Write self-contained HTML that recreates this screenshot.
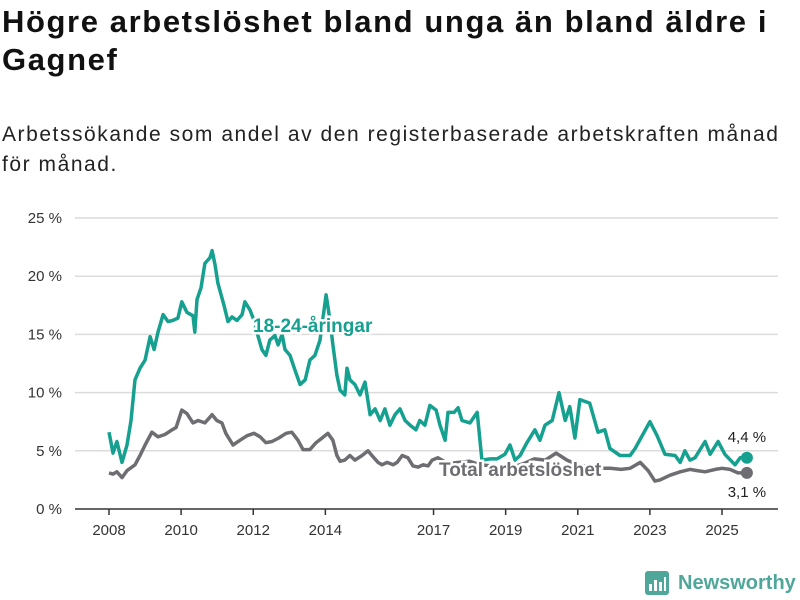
<!DOCTYPE html>
<html><head><meta charset="utf-8"><style>
body{margin:0;width:800px;height:600px;background:#fff;font-family:"Liberation Sans",sans-serif;overflow:hidden;position:relative}
#title{position:absolute;left:2px;top:3px;font-size:31px;font-weight:bold;line-height:38px;color:#111;white-space:nowrap;letter-spacing:1.6px}
#sub{position:absolute;left:2px;top:120px;font-size:21px;line-height:30px;color:#222;white-space:nowrap;letter-spacing:1.55px}
svg{position:absolute;left:0;top:0}
</style></head><body>
<div id="title">Högre arbetslöshet bland unga än bland äldre i<br>Gagnef</div>
<div id="sub">Arbetssökande som andel av den registerbaserade arbetskraften månad<br>för månad.</div>
<svg id="chart" width="800" height="600"></svg>
<script>
const yTicks=[0,5,10,15,20,25];
const yTickLabels=["0 %","5 %","10 %","15 %","20 %","25 %"];
const xTicks=[2008,2010,2012,2014,2017,2019,2021,2023,2025];
const youthT=[2008.00,2008.11,2008.22,2008.36,2008.50,2008.61,2008.72,2008.86,2009.00,2009.14,2009.25,2009.36,2009.50,2009.64,2009.77,2009.91,2010.02,2010.16,2010.33,2010.38,2010.44,2010.55,2010.66,2010.80,2010.86,2010.94,2011.02,2011.11,2011.19,2011.30,2011.41,2011.55,2011.69,2011.77,2011.91,2012.02,2012.13,2012.24,2012.35,2012.46,2012.60,2012.69,2012.80,2012.88,2013.02,2013.16,2013.30,2013.44,2013.57,2013.71,2013.85,2014.02,2014.13,2014.21,2014.32,2014.41,2014.54,2014.60,2014.68,2014.82,2014.96,2015.10,2015.24,2015.38,2015.52,2015.65,2015.79,2015.93,2016.07,2016.21,2016.35,2016.51,2016.62,2016.76,2016.90,2017.07,2017.18,2017.32,2017.40,2017.57,2017.68,2017.79,2018.01,2018.21,2018.34,2018.57,2018.76,2018.98,2019.12,2019.26,2019.40,2019.59,2019.81,2019.95,2020.09,2020.29,2020.48,2020.65,2020.78,2020.92,2021.06,2021.33,2021.56,2021.75,2021.89,2022.17,2022.45,2022.59,2023.00,2023.20,2023.42,2023.70,2023.84,2023.97,2024.11,2024.25,2024.53,2024.67,2024.89,2025.08,2025.36,2025.50,2025.69];
const youthV=[6.6,4.8,5.8,4.0,5.5,7.6,11.1,12.1,12.8,14.8,13.7,15.2,16.7,16.1,16.2,16.4,17.8,16.9,16.6,15.2,18.0,19.0,21.1,21.6,22.2,21.0,19.4,18.4,17.5,16.1,16.5,16.2,16.7,17.8,17.1,16.2,14.9,13.7,13.2,14.5,14.9,14.1,15.0,13.7,13.2,11.9,10.7,11.1,12.8,13.2,14.5,18.4,16.2,14.1,11.5,10.2,9.8,12.1,11.1,10.7,9.8,10.9,8.1,8.6,7.6,8.6,7.2,8.1,8.6,7.6,7.2,6.8,7.6,7.2,8.9,8.5,7.2,5.9,8.3,8.3,8.7,7.6,7.4,8.3,4.2,4.3,4.3,4.7,5.5,4.2,4.6,5.7,6.8,5.9,7.2,7.6,10.0,7.6,8.8,6.1,9.4,9.1,6.6,6.8,5.2,4.6,4.6,5.2,7.5,6.3,4.7,4.6,4.0,5.0,4.2,4.4,5.8,4.7,5.8,4.7,3.8,4.4,4.4];
const totalT=[2008.00,2008.11,2008.22,2008.36,2008.50,2008.72,2008.86,2009.00,2009.19,2009.36,2009.55,2009.75,2009.86,2010.02,2010.16,2010.33,2010.47,2010.66,2010.86,2010.99,2011.13,2011.24,2011.44,2011.63,2011.83,2012.02,2012.19,2012.35,2012.52,2012.71,2012.91,2013.07,2013.24,2013.38,2013.57,2013.74,2013.91,2014.07,2014.21,2014.32,2014.41,2014.54,2014.68,2014.82,2015.02,2015.18,2015.29,2015.46,2015.57,2015.71,2015.88,2015.99,2016.13,2016.29,2016.43,2016.57,2016.71,2016.85,2016.96,2017.12,2017.40,2017.70,2018.00,2018.30,2018.60,2018.90,2019.20,2019.50,2019.80,2020.10,2020.40,2020.70,2021.00,2021.30,2021.60,2021.90,2022.20,2022.45,2022.73,2022.95,2023.14,2023.28,2023.56,2023.84,2024.11,2024.31,2024.53,2024.81,2025.00,2025.22,2025.44,2025.69];
const totalV=[3.1,3.0,3.2,2.7,3.3,3.8,4.6,5.5,6.6,6.2,6.4,6.8,7.0,8.5,8.2,7.4,7.6,7.4,8.1,7.6,7.4,6.5,5.5,5.9,6.3,6.5,6.2,5.7,5.8,6.1,6.5,6.6,5.9,5.1,5.1,5.7,6.1,6.5,5.9,4.6,4.1,4.2,4.6,4.2,4.6,5.0,4.6,4.0,3.8,4.0,3.8,4.0,4.6,4.4,3.7,3.6,3.8,3.7,4.2,4.4,3.9,4.0,4.1,3.8,3.7,3.5,3.6,3.9,4.3,4.2,4.8,4.2,3.8,3.6,3.5,3.5,3.4,3.5,4.0,3.3,2.4,2.5,2.9,3.2,3.4,3.3,3.2,3.4,3.5,3.4,3.1,3.1];
const NS="http://www.w3.org/2000/svg";
const svg=document.getElementById('chart');
const X0=75,X1=778,Y0=509;
const xs=t=>109+(t-2008)*36.06;
const ys=v=>Y0-v*11.64;
function mk(tag,attrs,parent){const e=document.createElementNS(NS,tag);for(const k in attrs)e.setAttribute(k,attrs[k]);(parent||svg).appendChild(e);return e;}
yTicks.forEach((v,i)=>{
 if(v>0){const g=mk('line',{x1:X0,x2:X1,y1:ys(v),y2:ys(v),stroke:'#dcdcdc','stroke-width':1.5});
 
 }
 const t=mk('text',{x:62,y:ys(v)+5,'text-anchor':'end','font-size':15,fill:'#333','font-family':'Liberation Sans, sans-serif'});
 t.textContent=yTickLabels[i];
 
 
});
const ax=mk('line',{x1:X0,x2:X1,y1:Y0,y2:Y0,stroke:'#333','stroke-width':1.5});


xTicks.forEach(y=>{
 const tk=mk('line',{x1:xs(y),x2:xs(y),y1:Y0,y2:Y0+6,stroke:'#333','stroke-width':1.5});
 
 
 const t=mk('text',{x:xs(y),y:535,'text-anchor':'middle','font-size':15,fill:'#333','font-family':'Liberation Sans, sans-serif'});
 t.textContent=y;
 
 
});
function line(T,V,color,name){
 const d=T.map((t,i)=>(i?'L':'M')+xs(t).toFixed(1)+','+ys(V[i]).toFixed(1)).join('');
 const p=mk('path',{d:d,fill:'none',stroke:color,'stroke-width':3.5,'stroke-linejoin':'round'});
 
 
 const n=T.length-1;
 const c=mk('circle',{cx:xs(T[n]),cy:ys(V[n]),r:6,fill:color});
 
 
}
line(totalT,totalV,'#6d6d72','total-line');
line(youthT,youthV,'#15a08f','youth-line');
function lab(x,y,txt,color,size,weight,name,anchor){
 const t=mk('text',{x:x,y:y,'font-size':size,'font-weight':weight,fill:color,'text-anchor':anchor||'start',stroke:'#fff','stroke-width':weight=='bold'?5:4,'paint-order':'stroke','font-family':'Liberation Sans, sans-serif'});
 t.textContent=txt;
 
 
}
lab(253,332,'18-24-åringar','#15a08f',19,'bold','youth-series-label');
lab(439,476,'Total arbetslöshet','#6d6d72',19,'bold','total-series-label');
lab(xs(youthT[youthT.length-1]),442,'4,4 %','#222',15,'normal','youth-last-value','middle');
lab(xs(totalT[totalT.length-1]),497,'3,1 %','#222',15,'normal','total-last-value','middle');
</script>
<div style="position:absolute;left:645px;top:571px;height:24px;display:flex;align-items:center">
<svg width="24" height="24" style="position:static"><rect x="0" y="0" width="24" height="24" rx="3" fill="#4fa79a"/><rect x="4" y="13" width="3" height="7" fill="#fff"/><rect x="9" y="9" width="3" height="11" fill="#fff"/><rect x="14" y="11" width="3" height="9" fill="#fff"/><rect x="19" y="6" width="2" height="14" fill="#fff"/></svg>
<span style="margin-left:9px;font-size:20px;font-weight:bold;color:#4fa79a">Newsworthy</span>
</div>
</body></html>
